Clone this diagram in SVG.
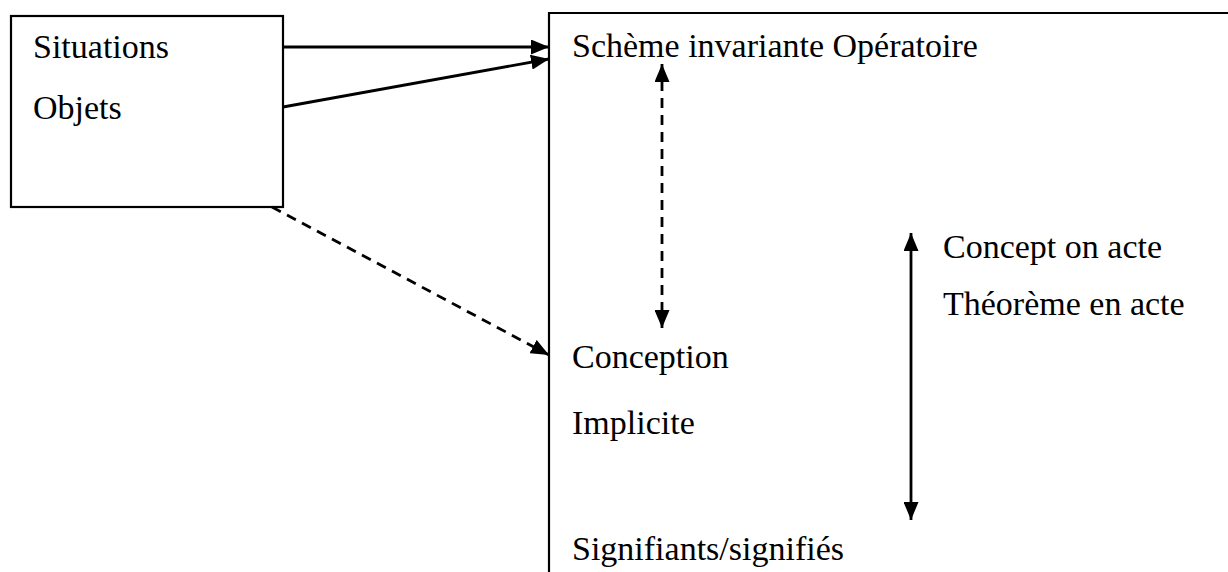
<svg xmlns="http://www.w3.org/2000/svg" width="1228" height="572" viewBox="0 0 1228 572">
<style>
text{font-size:34px;fill:#000}
.box{fill:#fff;stroke:#000;stroke-width:2.2}
.ln{fill:none;stroke:#000;stroke-width:2.8}
.dash{stroke-dasharray:10 7}
</style>
<defs>
<marker id="ah" viewBox="0 0 18 15" refX="18" refY="7.5" markerWidth="18" markerHeight="15" markerUnits="userSpaceOnUse" orient="auto-start-reverse">
<path d="M0,0 L18,7.5 L0,15 Z" fill="#000"/>
</marker>
</defs>
<g font-family="'Liberation Serif', 'Times New Roman', 'DejaVu Serif', serif">
<g id="node-right">
<path class="box" d="M1240,585 L549,585 L549,13 L1240,13"/>
<text x="572" y="57">Schème invariante Opératoire</text>
<text x="572" y="368">Conception</text>
<text x="572" y="434">Implicite</text>
<text x="572" y="560">Signifiants/signifiés</text>
<text x="943" y="258">Concept on acte</text>
<text x="943" y="315">Théorème en acte</text>
</g>
<g id="node-left">
<rect class="box" x="11" y="16" width="272" height="191"/>
<text x="33" y="58">Situations</text>
<text x="33" y="119">Objets</text>
</g>
</g>
<g id="connectors">
<line class="ln" x1="283" y1="47" x2="549" y2="47" marker-end="url(#ah)"/>
<line class="ln" x1="283" y1="107" x2="549" y2="59" marker-end="url(#ah)"/>
<line class="ln dash" x1="272" y1="207" x2="549" y2="355" marker-end="url(#ah)"/>
<line class="ln dash" x1="662" y1="64" x2="662" y2="328" marker-start="url(#ah)" marker-end="url(#ah)"/>
<line class="ln" x1="911" y1="233" x2="911" y2="520" marker-start="url(#ah)" marker-end="url(#ah)"/>
</g>
</svg>
